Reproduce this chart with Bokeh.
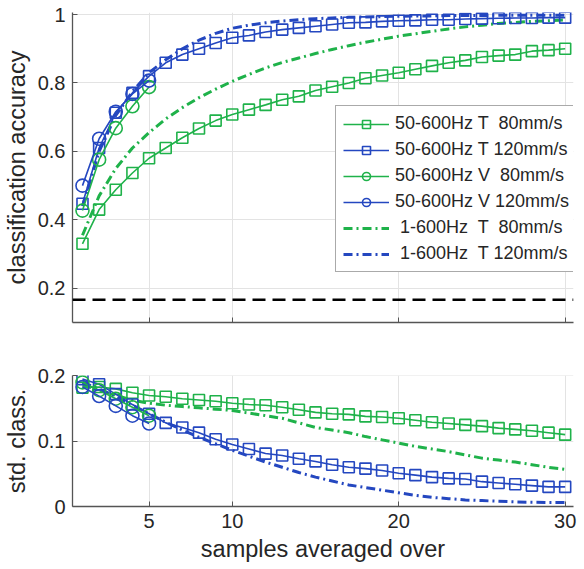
from bokeh.plotting import figure
from bokeh.layouts import column
from bokeh.models import FixedTicker, Span, Legend, LegendItem, Range1d
from bokeh.embed import file_html
from bokeh.resources import INLINE

# ---------------- data ----------------
x_all = list(range(1, 31))
x_v = [1, 2, 3, 4, 5]

acc_T80 = [0.33, 0.43, 0.488, 0.537, 0.58, 0.61, 0.64, 0.667, 0.69, 0.708,
           0.722, 0.736, 0.751, 0.761, 0.778, 0.789, 0.800, 0.814, 0.822, 0.830,
           0.840, 0.850, 0.859, 0.866, 0.876, 0.880, 0.883, 0.893, 0.896, 0.900]
acc_T120 = [0.447, 0.61, 0.713, 0.771, 0.82, 0.859, 0.883, 0.900, 0.917, 0.932,
            0.939, 0.949, 0.956, 0.961, 0.966, 0.971, 0.976, 0.977, 0.980, 0.982,
            0.983, 0.985, 0.985, 0.987, 0.988, 0.989, 0.990, 0.990, 0.991, 0.991]
acc_V80 = [0.427, 0.576, 0.668, 0.732, 0.788]
acc_V120 = [0.50, 0.637, 0.716, 0.768, 0.807]
acc_1T80 = [0.355, 0.47, 0.55, 0.61, 0.655, 0.695, 0.728, 0.757, 0.782, 0.805,
            0.825, 0.844, 0.86, 0.873, 0.886, 0.898, 0.909, 0.919, 0.928, 0.937,
            0.944, 0.951, 0.958, 0.964, 0.969, 0.974, 0.977, 0.980, 0.982, 0.984]
acc_1T120 = [0.44, 0.60, 0.705, 0.775, 0.83, 0.868, 0.90, 0.925, 0.945, 0.96,
             0.969, 0.976, 0.981, 0.985, 0.988, 0.99, 0.992, 0.993, 0.994, 0.995,
             0.996, 0.996, 0.997, 0.997, 0.997, 0.998, 0.998, 0.998, 0.998, 0.998]
chance = 1 / 6

std_T80 = [0.182, 0.183, 0.180, 0.174, 0.170, 0.168, 0.165, 0.163, 0.161, 0.158,
           0.156, 0.155, 0.152, 0.148, 0.144, 0.142, 0.141, 0.138, 0.137, 0.135,
           0.132, 0.129, 0.127, 0.125, 0.123, 0.120, 0.118, 0.116, 0.113, 0.110]
std_T120 = [0.195, 0.187, 0.172, 0.156, 0.142, 0.128, 0.121, 0.113, 0.103, 0.095,
            0.088, 0.081, 0.078, 0.073, 0.069, 0.064, 0.060, 0.058, 0.055, 0.051,
            0.048, 0.045, 0.043, 0.042, 0.038, 0.036, 0.034, 0.032, 0.030, 0.030]
std_V80 = [0.19, 0.178, 0.165, 0.152, 0.139]
std_V120 = [0.183, 0.169, 0.154, 0.139, 0.127]
std_1T80 = [0.186, 0.178, 0.17, 0.163, 0.158, 0.155, 0.153, 0.151, 0.149, 0.147,
            0.143, 0.139, 0.135, 0.128, 0.121, 0.117, 0.113, 0.107, 0.102, 0.097,
            0.092, 0.088, 0.084, 0.079, 0.074, 0.071, 0.068, 0.064, 0.060, 0.057]
std_1T120 = [0.19, 0.18, 0.168, 0.155, 0.142, 0.129, 0.117, 0.106, 0.096, 0.086,
             0.077, 0.068, 0.06, 0.052, 0.045, 0.039, 0.033, 0.029, 0.025, 0.021,
             0.017, 0.014, 0.012, 0.010, 0.009, 0.008, 0.007, 0.0065, 0.006, 0.006]

labels = ["50-600Hz T  80mm/s", "50-600Hz T 120mm/s", "50-600Hz V  80mm/s",
          "50-600Hz V 120mm/s", " 1-600Hz  T  80mm/s", " 1-600Hz  T 120mm/s"]
x_ticks = [5, 10, 20, 30]
acc_ticks = [0.2, 0.4, 0.6, 0.8, 1]
std_ticks = [0, 0.1, 0.2]

GREEN = "#1fb24a"
BLUE = "#2447c0"
FONT = "Liberation Sans"
TXT = "#262626"
AX = "#555555"
DASHDOT = "9 4 2 4"


def style(p, xt, yt, ylabel, overrides, show_xlabels):
    p.outline_line_color = None
    p.xaxis.ticker = FixedTicker(ticks=xt)
    p.yaxis.ticker = FixedTicker(ticks=yt)
    p.xgrid.ticker = FixedTicker(ticks=xt)
    p.ygrid.ticker = FixedTicker(ticks=yt)
    for g in (p.xgrid, p.ygrid):
        g.grid_line_color = "#e3e3e3"
        g.grid_line_width = 1
    for ax in (p.xaxis, p.yaxis):
        ax.axis_line_color = AX
        ax.axis_line_width = 1.3
        ax.major_tick_line_color = AX
        ax.major_tick_in = 5
        ax.major_tick_out = 0
        ax.minor_tick_line_color = None
        ax.major_label_text_font = FONT
        ax.major_label_text_font_size = "20px"
        ax.major_label_text_color = TXT
        ax.axis_label_text_font = FONT
        ax.axis_label_text_font_size = "23.5px"
        ax.axis_label_text_font_style = "normal"
        ax.axis_label_text_color = TXT
    p.yaxis.axis_label = ylabel
    p.yaxis.major_label_standoff = 7
    p.yaxis.axis_label_standoff = 5
    p.yaxis.major_label_overrides = overrides
    if not show_xlabels:
        p.xaxis.major_label_overrides = {t: "" for t in xt}
    else:
        p.xaxis.axis_label = "samples averaged over"
        p.xaxis.major_label_standoff = 7
        p.xaxis.axis_label_standoff = 5


# ---------------- top plot ----------------
p1 = figure(width=581, height=347, x_range=Range1d(0.4, 30.5), y_range=Range1d(0.1, 1.006),
            output_backend="svg", toolbar_location=None,
            min_border_left=71, min_border_right=8, min_border_top=12, min_border_bottom=25)
style(p1, x_ticks, acc_ticks, "classification accuracy", {1: "1"}, False)

p1.add_layout(Span(location=chance, dimension="width", line_color="black",
                   line_width=2.5, line_dash="13 7"))

r_1t80 = p1.line(x_all, acc_1T80, line_color=GREEN, line_width=3, line_dash=DASHDOT)
r_1t120 = p1.line(x_all, acc_1T120, line_color=BLUE, line_width=3, line_dash=DASHDOT)
l_t80 = p1.line(x_all, acc_T80, line_color=GREEN, line_width=1.6)
s_t80 = p1.scatter(x_all, acc_T80, marker="square", size=11, line_color=GREEN,
                   fill_color=None, line_width=1.6)
l_t120 = p1.line(x_all, acc_T120, line_color=BLUE, line_width=1.6)
s_t120 = p1.scatter(x_all, acc_T120, marker="square", size=11, line_color=BLUE,
                    fill_color=None, line_width=1.6)
l_v80 = p1.line(x_v, acc_V80, line_color=GREEN, line_width=1.6)
s_v80 = p1.scatter(x_v, acc_V80, marker="circle", size=13, line_color=GREEN,
                   fill_color=None, line_width=1.6)
l_v120 = p1.line(x_v, acc_V120, line_color=BLUE, line_width=1.6)
s_v120 = p1.scatter(x_v, acc_V120, marker="circle", size=13, line_color=BLUE,
                    fill_color=None, line_width=1.6)

legend = Legend(items=[
    LegendItem(label=labels[0], renderers=[l_t80, s_t80]),
    LegendItem(label=labels[1], renderers=[l_t120, s_t120]),
    LegendItem(label=labels[2], renderers=[l_v80, s_v80]),
    LegendItem(label=labels[3], renderers=[l_v120, s_v120]),
    LegendItem(label=labels[4], renderers=[r_1t80]),
    LegendItem(label=labels[5], renderers=[r_1t120]),
], location=(263, 50), label_text_font=FONT, label_text_font_size="18px",
    label_text_color=TXT, glyph_width=46, glyph_height=20, label_height=20,
    label_standoff=6, spacing=5, padding=7, margin=0,
    border_line_color=AX, border_line_width=1.2, background_fill_alpha=1)
p1.add_layout(legend, "center")

# ---------------- bottom plot ----------------
p2 = figure(width=581, height=217, x_range=Range1d(0.4, 30.5), y_range=Range1d(0, 0.2005),
            output_backend="svg", toolbar_location=None,
            min_border_left=71, min_border_right=8, min_border_top=28, min_border_bottom=58)
style(p2, x_ticks, std_ticks, "std. class.", {0: "0"}, True)

p2.line(x_all, std_1T80, line_color=GREEN, line_width=3, line_dash=DASHDOT)
p2.line(x_all, std_1T120, line_color=BLUE, line_width=3, line_dash=DASHDOT)
p2.line(x_all, std_T80, line_color=GREEN, line_width=1.6)
p2.scatter(x_all, std_T80, marker="square", size=11, line_color=GREEN, fill_color=None, line_width=1.6)
p2.line(x_all, std_T120, line_color=BLUE, line_width=1.6)
p2.scatter(x_all, std_T120, marker="square", size=11, line_color=BLUE, fill_color=None, line_width=1.6)
p2.line(x_v, std_V80, line_color=GREEN, line_width=1.6)
p2.scatter(x_v, std_V80, marker="circle", size=13, line_color=GREEN, fill_color=None, line_width=1.6)
p2.line(x_v, std_V120, line_color=BLUE, line_width=1.6)
p2.scatter(x_v, std_V120, marker="circle", size=13, line_color=BLUE, fill_color=None, line_width=1.6)

layout = column(p1, p2, spacing=0)
open("out.html", "w").write(file_html(layout, INLINE))
